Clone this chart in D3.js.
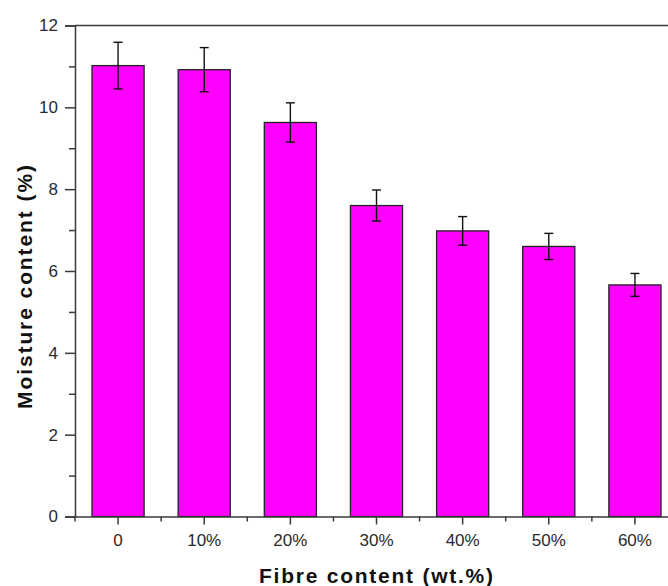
<!DOCTYPE html>
<html>
<head>
<meta charset="utf-8">
<script src="https://cdn.jsdelivr.net/npm/d3@7"></script>
<style>
  html, body { margin: 0; padding: 0; background: #fff; }
  svg { display: block; }
  text { font-family: Arial, "Liberation Sans", Helvetica, sans-serif; }
</style>
</head>
<body>
<div id="chart"></div>
<script>
const categories = ["0", "10%", "20%", "30%", "40%", "50%", "60%"];
const moisture = [11.02, 10.92, 9.63, 7.60, 6.98, 6.60, 5.66];
const errors = [0.57, 0.54, 0.48, 0.38, 0.35, 0.32, 0.28];
const yTicks = [0, 2, 4, 6, 8, 10, 12];
const yMinorTicks = [1, 3, 5, 7, 9, 11];
const xTitle = "Fibre content (wt.%)";
const yTitle = "Moisture content (%)";

const W = 668, H = 586;
const mLeft = 75, mTop = 25.5, mBottom = 516.5, mRight = 678;

const svg = d3.select("#chart").append("svg")
  .attr("width", W).attr("height", H);

const x = d3.scaleBand().domain(categories).range([mLeft, mRight])
  .paddingInner(0.395).paddingOuter(0.1975);
const y = d3.scaleLinear().domain([0, 12]).range([mBottom, mTop]);

const axisColor = "#3a3a3a";

// bars
svg.append("g").selectAll("rect").data(categories).join("rect")
  .attr("x", d => x(d))
  .attr("y", (d, i) => y(moisture[i]))
  .attr("width", x.bandwidth())
  .attr("height", (d, i) => y(0) - y(moisture[i]))
  .attr("fill", "#ff00ff")
  .attr("stroke", "#222")
  .attr("stroke-width", 1.3);

// error bars
const eg = svg.append("g").attr("stroke", "#111").attr("stroke-width", 1.4);
categories.forEach((c, i) => {
  const cx = x(c) + x.bandwidth() / 2;
  const y1 = y(moisture[i] + errors[i]), y2 = y(moisture[i] - errors[i]);
  eg.append("line").attr("x1", cx).attr("x2", cx).attr("y1", y1).attr("y2", y2);
  eg.append("line").attr("x1", cx - 4.5).attr("x2", cx + 4.5).attr("y1", y1).attr("y2", y1);
  eg.append("line").attr("x1", cx - 4.5).attr("x2", cx + 4.5).attr("y1", y2).attr("y2", y2);
});

// y axis
const yAxis = d3.axisLeft(y).tickValues(yTicks).tickSize(10).tickPadding(7).tickFormat(d3.format("d"));
const gy = svg.append("g").attr("transform", `translate(${mLeft},0)`).call(yAxis);
gy.select(".domain").attr("stroke", axisColor).attr("stroke-width", 1.5);
gy.selectAll(".tick line").attr("stroke", axisColor).attr("stroke-width", 1.5);
gy.selectAll(".tick text").attr("font-size", 17).attr("fill", "#2a2a2a")
  .attr("font-family", "Arial, 'Liberation Sans', sans-serif");
const gyMinor = svg.append("g").attr("transform", `translate(${mLeft},0)`)
  .call(d3.axisLeft(y).tickValues(yMinorTicks).tickSize(6).tickFormat(""));
gyMinor.select(".domain").remove();
gyMinor.selectAll(".tick line").attr("stroke", axisColor).attr("stroke-width", 1.5);

// x axis
const xAxis = d3.axisBottom(x).tickSize(8).tickSizeOuter(0).tickPadding(9);
const gx = svg.append("g").attr("transform", `translate(0,${mBottom})`).call(xAxis);
gx.select(".domain").attr("stroke", axisColor).attr("stroke-width", 1.5);
gx.selectAll(".tick line").attr("stroke", axisColor).attr("stroke-width", 1.5);
gx.selectAll(".tick text").attr("font-size", 17).attr("fill", "#2a2a2a")
  .attr("font-family", "Arial, 'Liberation Sans', sans-serif");
// minor x ticks at category boundaries
const step = x.step();
const boundaries = categories.map(c => x(c) + x.bandwidth() / 2 - step / 2);
svg.append("g").selectAll("line").data(boundaries).join("line")
  .attr("x1", d => d).attr("x2", d => d)
  .attr("y1", mBottom).attr("y2", mBottom + 5)
  .attr("stroke", axisColor).attr("stroke-width", 1.5);

// top frame line
svg.append("line").attr("x1", mLeft).attr("x2", mRight).attr("y1", mTop).attr("y2", mTop)
  .attr("stroke", axisColor).attr("stroke-width", 1.5);

// titles
svg.append("text").text(xTitle)
  .attr("x", 376).attr("y", 583)
  .attr("text-anchor", "middle")
  .attr("font-size", 21).attr("font-weight", "bold").attr("fill", "#111")
  .attr("textLength", 234).attr("lengthAdjust", "spacing");
svg.append("text").text(yTitle)
  .attr("transform", "translate(32,287) rotate(-90)")
  .attr("text-anchor", "middle")
  .attr("font-size", 21).attr("font-weight", "bold").attr("fill", "#111")
  .attr("textLength", 244).attr("lengthAdjust", "spacing");
</script>
</body>
</html>
